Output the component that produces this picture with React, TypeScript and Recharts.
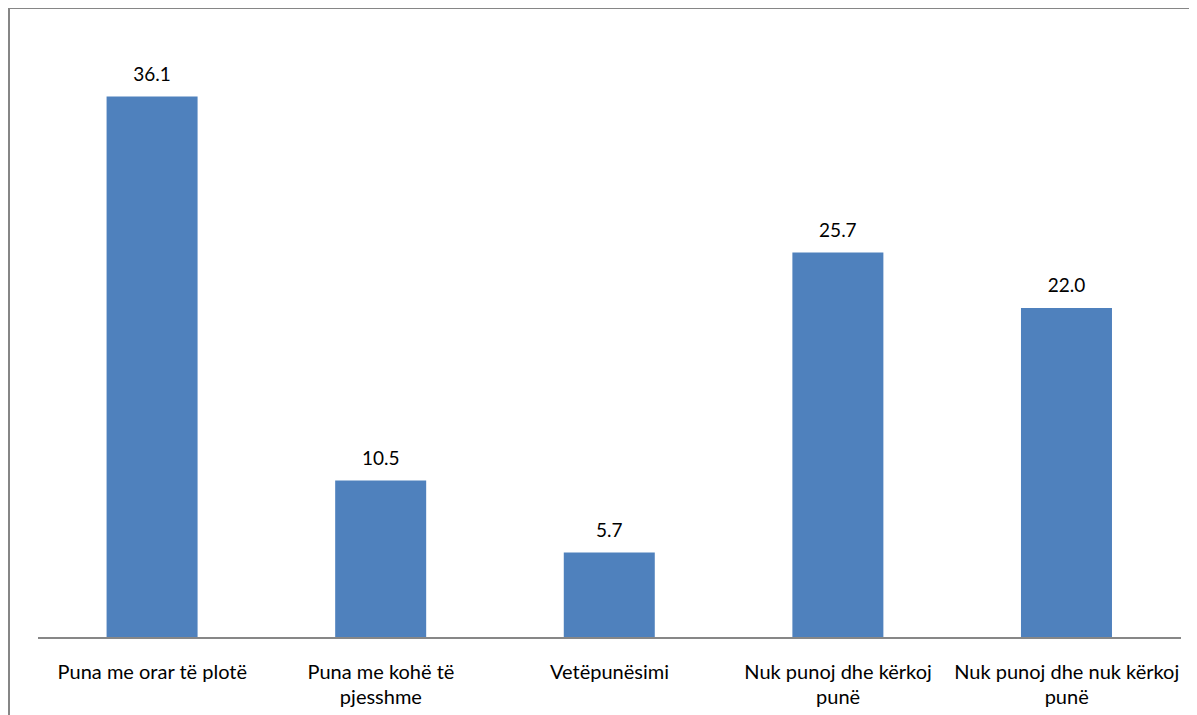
import React from 'react';
import { Bar, BarChart, XAxis, YAxis, LabelList } from 'recharts';

const categories = [
    'Puna me orar të plotë',
    'Puna me kohë të pjesshme',
    'Vetëpunësimi',
    'Nuk punoj dhe kërkoj punë',
    'Nuk punoj dhe nuk kërkoj punë',
];
const values = [36.1, 10.5, 5.7, 25.7, 22.0];
const tickLines = [
    ['Puna me orar të plotë'],
    ['Puna me kohë të', 'pjesshme'],
    ['Vetëpunësimi'],
    ['Nuk punoj dhe kërkoj', 'punë'],
    ['Nuk punoj dhe nuk kërkoj', 'punë'],
];

const data = categories.map((name, i) => ({ name, value: values[i] }));

const FONT = 'Lato, sans-serif';

function WrappedTick(props: any) {
    const { x, y, payload } = props;
    const idx = categories.indexOf(payload.value);
    const lines = idx >= 0 ? tickLines[idx] : [payload.value];
    return (
        <g transform={`translate(${x},${y})`}>
            {lines.map((line, i) => (
                <text key={i} x={0} y={33 + i * 25} textAnchor="middle" fill="#000" fontSize={20} fontFamily={FONT}>
                    {line}
                </text>
            ))}
        </g>
    );
}

export default function App() {
    return (
        <div style={{ width: 1187, height: 706, borderTop: '1px solid #868686', borderLeft: '2px solid #868686', overflow: 'hidden' }}>
            <BarChart width={1187} height={706} data={data} margin={{ top: 29, right: 16, left: 28, bottom: 0 }} barCategoryGap="30%">
                <XAxis
                    dataKey="name"
                    height={77}
                    tickLine={false}
                    axisLine={{ stroke: '#878787', strokeWidth: 2 }}
                    tick={<WrappedTick />}
                    interval={0}
                />
                <YAxis hide domain={[0, 40]} />
                <Bar dataKey="value" fill="#4F81BD" isAnimationActive={false}>
                    <LabelList
                        dataKey="value"
                        position="top"
                        offset={16}
                        formatter={(v: any) => Number(v).toFixed(1)}
                        style={{ fill: '#000', fontSize: 19, fontFamily: FONT }}
                    />
                </Bar>
            </BarChart>
        </div>
    );
}
